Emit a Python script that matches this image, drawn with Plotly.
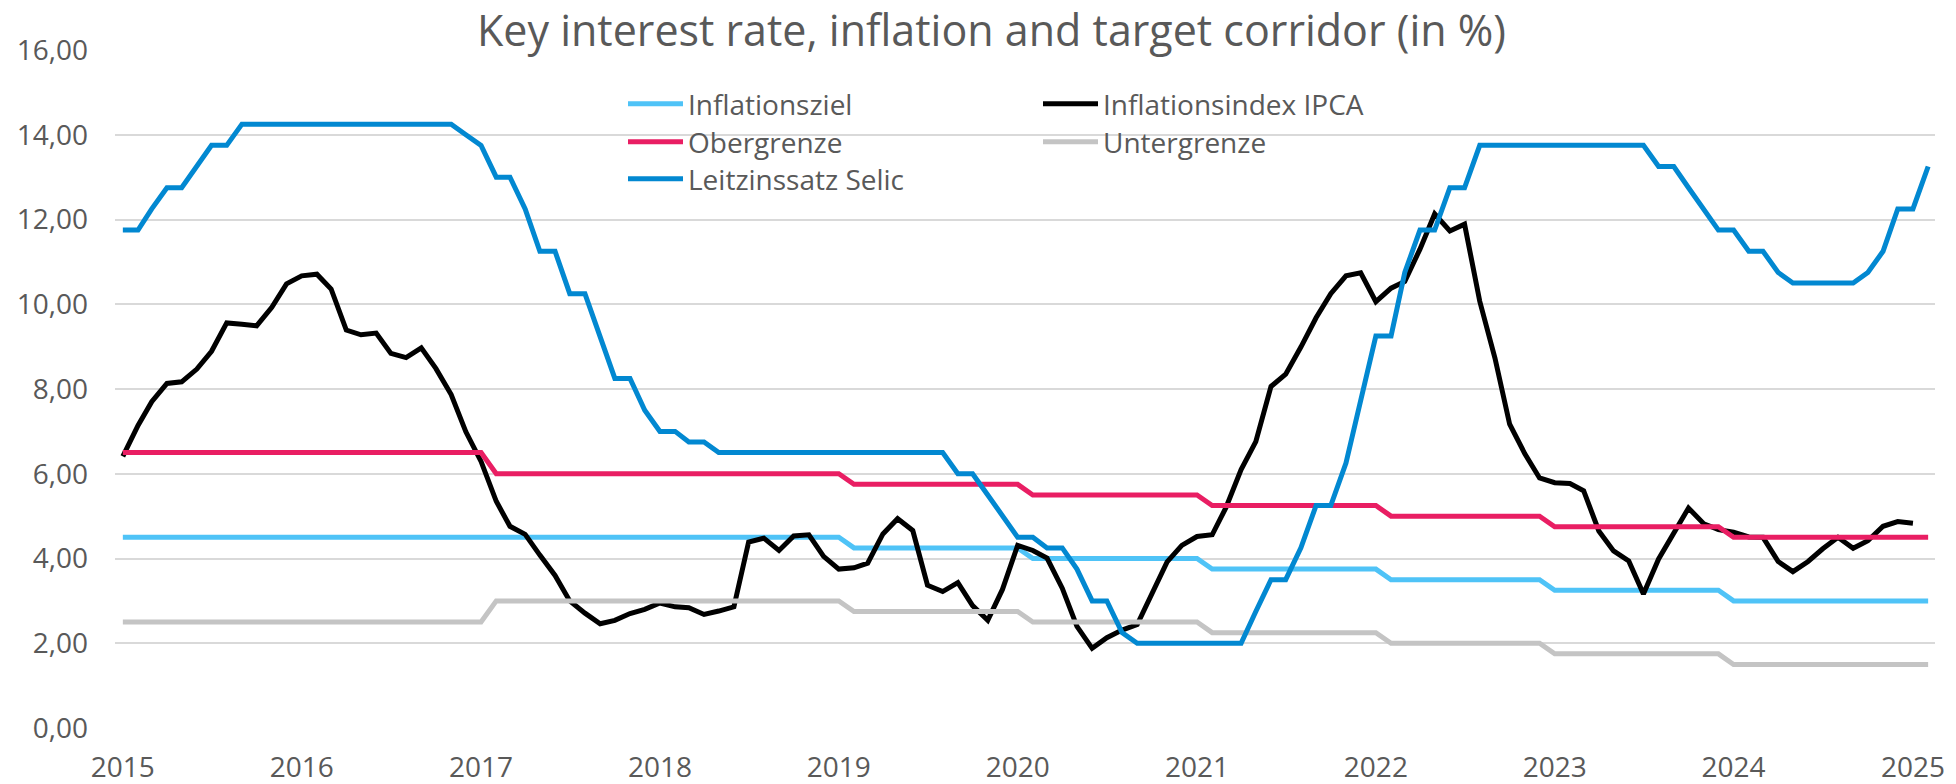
import plotly.graph_objects as go

# Monthly categories (Jan 2015 .. Feb 2025)
months = [
    "2015-01-01", "2015-02-01", "2015-03-01", "2015-04-01", "2015-05-01", "2015-06-01", "2015-07-01", "2015-08-01", "2015-09-01", "2015-10-01", "2015-11-01", "2015-12-01",
    "2016-01-01", "2016-02-01", "2016-03-01", "2016-04-01", "2016-05-01", "2016-06-01", "2016-07-01", "2016-08-01", "2016-09-01", "2016-10-01", "2016-11-01", "2016-12-01",
    "2017-01-01", "2017-02-01", "2017-03-01", "2017-04-01", "2017-05-01", "2017-06-01", "2017-07-01", "2017-08-01", "2017-09-01", "2017-10-01", "2017-11-01", "2017-12-01",
    "2018-01-01", "2018-02-01", "2018-03-01", "2018-04-01", "2018-05-01", "2018-06-01", "2018-07-01", "2018-08-01", "2018-09-01", "2018-10-01", "2018-11-01", "2018-12-01",
    "2019-01-01", "2019-02-01", "2019-03-01", "2019-04-01", "2019-05-01", "2019-06-01", "2019-07-01", "2019-08-01", "2019-09-01", "2019-10-01", "2019-11-01", "2019-12-01",
    "2020-01-01", "2020-02-01", "2020-03-01", "2020-04-01", "2020-05-01", "2020-06-01", "2020-07-01", "2020-08-01", "2020-09-01", "2020-10-01", "2020-11-01", "2020-12-01",
    "2021-01-01", "2021-02-01", "2021-03-01", "2021-04-01", "2021-05-01", "2021-06-01", "2021-07-01", "2021-08-01", "2021-09-01", "2021-10-01", "2021-11-01", "2021-12-01",
    "2022-01-01", "2022-02-01", "2022-03-01", "2022-04-01", "2022-05-01", "2022-06-01", "2022-07-01", "2022-08-01", "2022-09-01", "2022-10-01", "2022-11-01", "2022-12-01",
    "2023-01-01", "2023-02-01", "2023-03-01", "2023-04-01", "2023-05-01", "2023-06-01", "2023-07-01", "2023-08-01", "2023-09-01", "2023-10-01", "2023-11-01", "2023-12-01",
    "2024-01-01", "2024-02-01", "2024-03-01", "2024-04-01", "2024-05-01", "2024-06-01", "2024-07-01", "2024-08-01", "2024-09-01", "2024-10-01", "2024-11-01", "2024-12-01",
    "2025-01-01", "2025-02-01",
]

inflationsziel = [
    4.5, 4.5, 4.5, 4.5, 4.5, 4.5, 4.5, 4.5, 4.5, 4.5, 4.5, 4.5,
    4.5, 4.5, 4.5, 4.5, 4.5, 4.5, 4.5, 4.5, 4.5, 4.5, 4.5, 4.5,
    4.5, 4.5, 4.5, 4.5, 4.5, 4.5, 4.5, 4.5, 4.5, 4.5, 4.5, 4.5,
    4.5, 4.5, 4.5, 4.5, 4.5, 4.5, 4.5, 4.5, 4.5, 4.5, 4.5, 4.5,
    4.5, 4.25, 4.25, 4.25, 4.25, 4.25, 4.25, 4.25, 4.25, 4.25, 4.25, 4.25,
    4.25, 4.0, 4.0, 4.0, 4.0, 4.0, 4.0, 4.0, 4.0, 4.0, 4.0, 4.0,
    4.0, 3.75, 3.75, 3.75, 3.75, 3.75, 3.75, 3.75, 3.75, 3.75, 3.75, 3.75,
    3.75, 3.5, 3.5, 3.5, 3.5, 3.5, 3.5, 3.5, 3.5, 3.5, 3.5, 3.5,
    3.25, 3.25, 3.25, 3.25, 3.25, 3.25, 3.25, 3.25, 3.25, 3.25, 3.25, 3.25,
    3.0, 3.0, 3.0, 3.0, 3.0, 3.0, 3.0, 3.0, 3.0, 3.0, 3.0, 3.0,
    3.0, 3.0,
]

obergrenze = [
    6.5, 6.5, 6.5, 6.5, 6.5, 6.5, 6.5, 6.5, 6.5, 6.5, 6.5, 6.5,
    6.5, 6.5, 6.5, 6.5, 6.5, 6.5, 6.5, 6.5, 6.5, 6.5, 6.5, 6.5,
    6.5, 6.0, 6.0, 6.0, 6.0, 6.0, 6.0, 6.0, 6.0, 6.0, 6.0, 6.0,
    6.0, 6.0, 6.0, 6.0, 6.0, 6.0, 6.0, 6.0, 6.0, 6.0, 6.0, 6.0,
    6.0, 5.75, 5.75, 5.75, 5.75, 5.75, 5.75, 5.75, 5.75, 5.75, 5.75, 5.75,
    5.75, 5.5, 5.5, 5.5, 5.5, 5.5, 5.5, 5.5, 5.5, 5.5, 5.5, 5.5,
    5.5, 5.25, 5.25, 5.25, 5.25, 5.25, 5.25, 5.25, 5.25, 5.25, 5.25, 5.25,
    5.25, 5.0, 5.0, 5.0, 5.0, 5.0, 5.0, 5.0, 5.0, 5.0, 5.0, 5.0,
    4.75, 4.75, 4.75, 4.75, 4.75, 4.75, 4.75, 4.75, 4.75, 4.75, 4.75, 4.75,
    4.5, 4.5, 4.5, 4.5, 4.5, 4.5, 4.5, 4.5, 4.5, 4.5, 4.5, 4.5,
    4.5, 4.5,
]

untergrenze = [
    2.5, 2.5, 2.5, 2.5, 2.5, 2.5, 2.5, 2.5, 2.5, 2.5, 2.5, 2.5,
    2.5, 2.5, 2.5, 2.5, 2.5, 2.5, 2.5, 2.5, 2.5, 2.5, 2.5, 2.5,
    2.5, 3.0, 3.0, 3.0, 3.0, 3.0, 3.0, 3.0, 3.0, 3.0, 3.0, 3.0,
    3.0, 3.0, 3.0, 3.0, 3.0, 3.0, 3.0, 3.0, 3.0, 3.0, 3.0, 3.0,
    3.0, 2.75, 2.75, 2.75, 2.75, 2.75, 2.75, 2.75, 2.75, 2.75, 2.75, 2.75,
    2.75, 2.5, 2.5, 2.5, 2.5, 2.5, 2.5, 2.5, 2.5, 2.5, 2.5, 2.5,
    2.5, 2.25, 2.25, 2.25, 2.25, 2.25, 2.25, 2.25, 2.25, 2.25, 2.25, 2.25,
    2.25, 2.0, 2.0, 2.0, 2.0, 2.0, 2.0, 2.0, 2.0, 2.0, 2.0, 2.0,
    1.75, 1.75, 1.75, 1.75, 1.75, 1.75, 1.75, 1.75, 1.75, 1.75, 1.75, 1.75,
    1.5, 1.5, 1.5, 1.5, 1.5, 1.5, 1.5, 1.5, 1.5, 1.5, 1.5, 1.5,
    1.5, 1.5,
]

# 12-month IPCA as plotted (one point per month, last point Jan 2025)
ipca = [
    6.41, 7.14, 7.70, 8.13, 8.17, 8.47, 8.89, 9.56, 9.53, 9.49, 9.93, 10.48,
    10.67, 10.71, 10.36, 9.39, 9.28, 9.32, 8.84, 8.74, 8.97, 8.48, 7.87, 6.99,
    6.29, 5.35, 4.76, 4.57, 4.08, 3.60, 3.00, 2.71, 2.46, 2.54, 2.70, 2.80,
    2.95, 2.86, 2.84, 2.68, 2.76, 2.86, 4.39, 4.48, 4.19, 4.53, 4.56, 4.05,
    3.75, 3.78, 3.89, 4.58, 4.94, 4.66, 3.37, 3.22, 3.43, 2.89, 2.54, 3.27,
    4.31, 4.19, 4.01, 3.30, 2.40, 1.88, 2.13, 2.31, 2.44, 3.14, 3.92, 4.31,
    4.52, 4.56, 5.20, 6.10, 6.76, 8.06, 8.35, 8.99, 9.68, 10.25, 10.67, 10.74,
    10.06, 10.38, 10.54, 11.30, 12.13, 11.73, 11.89, 10.07, 8.73, 7.17, 6.47, 5.90,
    5.79, 5.77, 5.60, 4.65, 4.18, 3.94, 3.16, 3.99, 4.61, 5.19, 4.82, 4.68,
    4.62, 4.51, 4.50, 3.93, 3.69, 3.93, 4.23, 4.50, 4.24, 4.42, 4.76, 4.87,
    4.83,
]

selic = [
    11.75, 11.75, 12.25, 12.75, 12.75, 13.25, 13.75, 13.75, 14.25, 14.25, 14.25, 14.25,
    14.25, 14.25, 14.25, 14.25, 14.25, 14.25, 14.25, 14.25, 14.25, 14.25, 14.25, 14.00,
    13.75, 13.00, 13.00, 12.25, 11.25, 11.25, 10.25, 10.25, 9.25, 8.25, 8.25, 7.50,
    7.00, 7.00, 6.75, 6.75, 6.50, 6.50, 6.50, 6.50, 6.50, 6.50, 6.50, 6.50,
    6.50, 6.50, 6.50, 6.50, 6.50, 6.50, 6.50, 6.50, 6.00, 6.00, 5.50, 5.00,
    4.50, 4.50, 4.25, 4.25, 3.75, 3.00, 3.00, 2.25, 2.00, 2.00, 2.00, 2.00,
    2.00, 2.00, 2.00, 2.00, 2.75, 3.50, 3.50, 4.25, 5.25, 5.25, 6.25, 7.75,
    9.25, 9.25, 10.75, 11.75, 11.75, 12.75, 12.75, 13.75, 13.75, 13.75, 13.75, 13.75,
    13.75, 13.75, 13.75, 13.75, 13.75, 13.75, 13.75, 13.25, 13.25, 12.75, 12.25, 11.75,
    11.75, 11.25, 11.25, 10.75, 10.50, 10.50, 10.50, 10.50, 10.50, 10.75, 11.25, 12.25,
    12.25, 13.25,
]

year_ticks = ["2015-01-01", "2016-01-01", "2017-01-01", "2018-01-01", "2019-01-01", "2020-01-01",
              "2021-01-01", "2022-01-01", "2023-01-01", "2024-01-01", "2025-01-01"]
year_labels = ["2015", "2016", "2017", "2018", "2019", "2020", "2021", "2022", "2023", "2024", "2025"]

TITLE = "Key interest rate, inflation and target corridor (in %)"
TXT = "#595959"
LW = 5

fig = go.Figure()
fig.add_trace(go.Scatter(x=months, y=inflationsziel, name="Inflationsziel", mode="lines",
                         line=dict(color="#4FC3F7", width=LW), legend="legend"))
fig.add_trace(go.Scatter(x=months[:len(ipca)], y=ipca, name="Inflationsindex IPCA", mode="lines",
                         line=dict(color="#000000", width=LW), legend="legend2"))
fig.add_trace(go.Scatter(x=months, y=obergrenze, name="Obergrenze", mode="lines",
                         line=dict(color="#E91E63", width=LW), legend="legend3"))
fig.add_trace(go.Scatter(x=months, y=untergrenze, name="Untergrenze", mode="lines",
                         line=dict(color="#C4C4C4", width=LW), legend="legend4"))
fig.add_trace(go.Scatter(x=months, y=selic, name="Leitzinssatz Selic", mode="lines",
                         line=dict(color="#0288D1", width=LW), legend="legend5"))

L, R, T, B = 115, 21, 50, 56
W, H = 1956, 784
pw = W - L - R
ph = H - T - B


def leg(xpx, ytop_px):
    return dict(
        x=(xpx - L) / pw, y=(H - B - ytop_px) / ph,
        orientation="v", xanchor="left", yanchor="top",
        bgcolor="rgba(0,0,0,0)", borderwidth=0,
        font=dict(family="Open Sans", size=28, color=TXT),
        itemwidth=55,
    )


COL1, COL2 = 623, 1038
ROW1, ROW2, ROW3 = 79, 117, 154

fig.update_layout(
    width=W, height=H,
    margin=dict(l=L, r=R, t=T, b=B, pad=0, autoexpand=False),
    paper_bgcolor="white", plot_bgcolor="white",
    separators=",.",
    font=dict(family="Open Sans", color=TXT, size=28),
    title=dict(text=TITLE, x=991.5 / W, xref="container", xanchor="center",
               y=1 - 31 / H, yref="container", yanchor="middle",
               font=dict(family="Open Sans", size=43, color=TXT)),
    xaxis=dict(type="date", range=["2014-12-16", "2025-02-15"],
               tickmode="array", tickvals=year_ticks, ticktext=year_labels,
               showgrid=False, zeroline=False, showline=False, ticks="",
               tickfont=dict(family="Open Sans", size=28, color=TXT),
               ticklabelstandoff=20, automargin=False),
    yaxis=dict(range=[0, 16], dtick=2, tick0=0, tickformat=".2f",
               showgrid=True, gridcolor="#D9D9D9", gridwidth=2,
               zeroline=False, showline=False, ticks="",
               tickfont=dict(family="Open Sans", size=28, color=TXT),
               ticklabelstandoff=26, automargin=False),
    legend=leg(COL1, ROW1),
    legend2=leg(COL2, ROW1),
    legend3=leg(COL1, ROW2),
    legend4=leg(COL2, ROW2),
    legend5=leg(COL1, ROW3),
    showlegend=True,
)

fig.write_html("out.html",
               config={"displayModeBar": False},
               post_script="document.body.style.margin='0';document.body.style.overflow='hidden';")
